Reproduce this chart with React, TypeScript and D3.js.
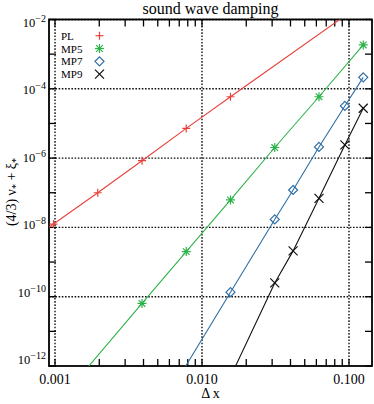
import React, { useEffect, useRef } from 'react';
import * as d3 from 'd3';

// data
const seriesNames = ['PL', 'MP5', 'MP7', 'MP9'];
const orders = [3, 5, 7, 9];
const plDx = [1 / 1024, 1 / 512, 1 / 256, 1 / 128, 1 / 64];
const plErr = [1.25e-8, 1.0e-7, 8.4e-7, 7.2e-6, 5.9e-5];
const mp5Dx = [1 / 256, 1 / 128, 1 / 64, 1 / 32, 1 / 16, 1 / 8];
const mp5Err = [6.4e-11, 2.0e-9, 6.2e-8, 2.02e-6, 5.9e-5, 1.84e-3];
const mp7Dx = [1 / 64, 1 / 32, 1 / 24, 1 / 16, 3 / 32, 1 / 8];
const mp7Err = [1.35e-10, 1.7e-8, 1.2e-7, 2.1e-6, 3.2e-5, 2.14e-4];
const mp9Dx = [1 / 32, 1 / 24, 1 / 16, 3 / 32, 1 / 8];
const mp9Err = [2.5e-10, 2.1e-9, 6.9e-8, 2.4e-6, 2.75e-5];
const xTickLabels = ['0.001', '0.010', '0.100'];
const xDomain = [0.00091, 0.1434];
const yDomain = [1e-12, 1e-2];
const lineEnd = 1 / 8;

const colors = ['#e8403a', '#2db34a', '#2f6ea5', '#111111'];
const symbols = ['plus', 'star', 'diamond', 'cross'];

const W = 374;
const H = 404;
const serif = '"Liberation Serif", "DejaVu Serif", serif';

function drawMarker(g, kind, x, y, color) {
  const s = 4.5;
  if (kind === 'plus' || kind === 'star') {
    const r = kind === 'plus' ? 4 : s;
    g.append('line').attr('x1', x - r).attr('x2', x + r).attr('y1', y).attr('y2', y);
    g.append('line').attr('x1', x).attr('x2', x).attr('y1', y - r).attr('y2', y + r);
  }
  if (kind === 'star' || kind === 'cross') {
    const r = kind === 'star' ? 3.3 : s;
    g.append('line').attr('x1', x - r).attr('x2', x + r).attr('y1', y - r).attr('y2', y + r);
    g.append('line').attr('x1', x - r).attr('x2', x + r).attr('y1', y + r).attr('y2', y - r);
  }
  if (kind === 'star') {
    g.append('circle').attr('cx', x).attr('cy', y).attr('r', 1.6).attr('fill', color).attr('stroke', 'none');
  }
  if (kind === 'diamond') {
    g.append('path')
      .attr('d', `M${x},${y - s}L${x + s},${y}L${x},${y + s}L${x - s},${y}Z`)
      .attr('fill', 'none');
  }
}

export default function App() {
  const ref = useRef(null);

  useEffect(() => {
    const svg = d3.select(ref.current);
    svg.selectAll('*').remove();

    const left = 49, right = 372, top = 19.5, bottom = 366;
    const x = d3.scaleLog().domain(xDomain).range([left, right]);
    const y = d3.scaleLog().domain(yDomain).range([bottom, top]);

    const series = [
      { dx: plDx, err: plErr },
      { dx: mp5Dx, err: mp5Err },
      { dx: mp7Dx, err: mp7Err },
      { dx: mp9Dx, err: mp9Err },
    ];

    svg.append('clipPath').attr('id', 'plotclip')
      .append('rect').attr('x', left).attr('y', top)
      .attr('width', right - left).attr('height', bottom - top);

    // title
    svg.append('text')
      .attr('x', (left + right) / 2).attr('y', 14)
      .attr('text-anchor', 'middle')
      .style('font-family', serif).style('font-size', '16px')
      .text('sound wave damping');

    // grid
    const grid = svg.append('g')
      .attr('stroke', '#111').attr('stroke-width', 1.4)
      .attr('stroke-dasharray', '1.6,1.6');
    [0.001, 0.01, 0.1].forEach((v) => {
      grid.append('line').attr('x1', x(v)).attr('x2', x(v)).attr('y1', top).attr('y2', bottom);
    });
    const yMajor = [1e-2, 1e-4, 1e-6, 1e-8, 1e-10];
    yMajor.forEach((v) => {
      grid.append('line').attr('x1', left).attr('x2', right).attr('y1', y(v)).attr('y2', y(v));
    });

    // ticks
    const ticks = svg.append('g').attr('stroke', '#000').attr('stroke-width', 1.3);
    const xMinor = x.ticks().filter((v) => v >= xDomain[0] && v <= xDomain[1]);
    xMinor.forEach((v) => {
      ticks.append('line').attr('x1', x(v)).attr('x2', x(v)).attr('y1', bottom).attr('y2', bottom - 7);
      ticks.append('line').attr('x1', x(v)).attr('x2', x(v)).attr('y1', top).attr('y2', top + 7);
    });
    d3.range(-12, -1).forEach((e) => {
      const py = y(Math.pow(10, e));
      ticks.append('line').attr('x1', left).attr('x2', left + 7).attr('y1', py).attr('y2', py);
      ticks.append('line').attr('x1', right).attr('x2', right - 7).attr('y1', py).attr('y2', py);
    });

    // frame
    svg.append('rect')
      .attr('x', left).attr('y', top)
      .attr('width', right - left).attr('height', bottom - top)
      .attr('fill', 'none').attr('stroke', '#000').attr('stroke-width', 1.8);

    // x tick labels
    [0.001, 0.01, 0.1].forEach((v, i) => {
      svg.append('text')
        .attr('x', x(v)).attr('y', 384)
        .attr('text-anchor', 'middle')
        .style('font-family', serif).style('font-size', '14px')
        .text(xTickLabels[i]);
    });
    svg.append('text')
      .attr('x', (left + right) / 2).attr('y', 398)
      .attr('text-anchor', 'middle')
      .style('font-family', serif).style('font-size', '14px')
      .text('\u0394 x');

    // y tick labels
    [1e-2, 1e-4, 1e-6, 1e-8, 1e-10, 1e-12].forEach((v, i) => {
      const t = svg.append('text')
        .attr('x', 46).attr('y', y(v) + 7 - i * 1.8)
        .attr('text-anchor', 'end')
        .style('font-family', serif).style('font-size', '12.5px');
      t.append('tspan').text('10');
      t.append('tspan').attr('dy', -5).style('font-size', '10px')
        .text('\u2212' + Math.round(-Math.log10(v)));
    });

    // y axis label
    const yl = svg.append('text')
      .attr('transform', `translate(16,${192}) rotate(-90)`)
      .attr('text-anchor', 'middle')
      .style('font-family', serif).style('font-size', '14px');
    yl.append('tspan').text('(4/3) \u03bd');
    yl.append('tspan').attr('dy', 3).style('font-size', '10px').text('*');
    yl.append('tspan').attr('dy', -3).text(' + \u03be');
    yl.append('tspan').attr('dy', 3).style('font-size', '10px').text('*');

    // lines + markers
    const line = d3.line().x((d) => x(d[0])).y((d) => y(d[1]));
    const plot = svg.append('g').attr('clip-path', 'url(#plotclip)');
    series.forEach((s, i) => {
      const p = orders[i];
      const pts = s.dx.map((d, j) => [d, s.err[j]]);
      const first = pts[0];
      const last = pts[pts.length - 1];
      const x0 = xDomain[0];
      const full = [[x0, first[1] * Math.pow(x0 / first[0], p)], ...pts];
      if (last[0] < lineEnd) full.push([lineEnd, last[1] * Math.pow(lineEnd / last[0], p)]);
      plot.append('path')
        .attr('d', line(full))
        .attr('fill', 'none')
        .attr('stroke', colors[i])
        .attr('stroke-width', 1.1);
      const mg = plot.append('g').attr('stroke', colors[i]).attr('stroke-width', 1.2);
      pts.forEach((d) => drawMarker(mg, symbols[i], x(d[0]), y(d[1]), colors[i]));
    });

    // legend
    seriesNames.forEach((name, i) => {
      const ly = 35.7 + i * 12.8;
      svg.append('text')
        .attr('x', 61).attr('y', ly + 4)
        .style('font-family', serif).style('font-size', '11px')
        .text(name);
      const mg = svg.append('g').attr('stroke', colors[i]).attr('stroke-width', 1.2);
      drawMarker(mg, symbols[i], 99.5, ly, colors[i]);
    });
  }, []);

  return (
    <svg
      ref={ref}
      width={W}
      height={H}
      style={{ position: 'absolute', left: 0, top: 0, background: '#fff' }}
    />
  );
}
